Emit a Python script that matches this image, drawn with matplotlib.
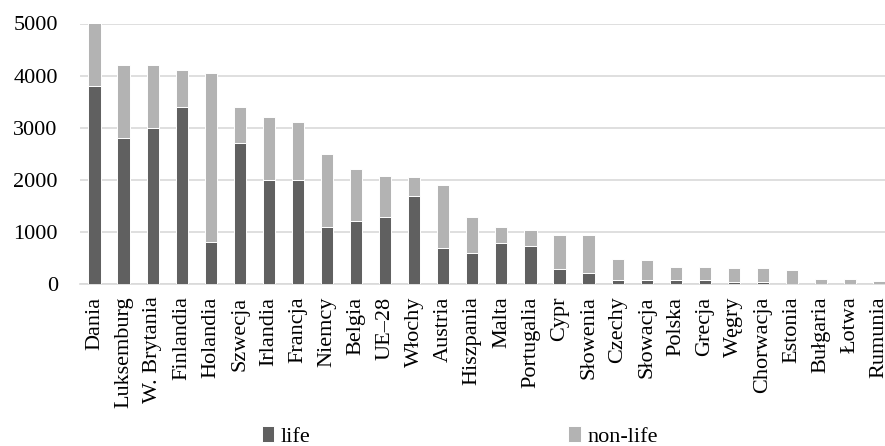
import numpy as np
import matplotlib.pyplot as plt

# kraje i składki (life / non-life)
kraje = ['Dania', 'Luksemburg', 'W. Brytania', 'Finlandia', 'Holandia', 'Szwecja',
         'Irlandia', 'Francja', 'Niemcy', 'Belgia', 'UE–28', 'Włochy', 'Austria',
         'Hiszpania', 'Malta', 'Portugalia', 'Cypr', 'Słowenia', 'Czechy', 'Słowacja',
         'Polska', 'Grecja', 'Węgry', 'Chorwacja', 'Estonia', 'Bułgaria', 'Łotwa', 'Rumunia']
life = [3800, 2800, 3000, 3400, 800, 2700, 2000, 2000, 1100, 1200, 1280, 1680, 700,
        600, 790, 730, 290, 210, 70, 70, 70, 70, 30, 30, 5, 5, 5, 5]
razem = [5000, 4200, 4200, 4100, 4050, 3400, 3200, 3100, 2500, 2200, 2080, 2050, 1900,
         1290, 1100, 1040, 940, 940, 480, 460, 330, 330, 300, 300, 270, 90, 90, 60]
non_life = [r - l for r, l in zip(razem, life)]

plt.rcParams['font.family'] = ['Liberation Serif', 'DejaVu Serif']

fig = plt.figure(figsize=(8.85, 4.46), dpi=100)
ax = fig.add_axes([80 / 885, 1 - 284 / 446, 805 / 885, 260.5 / 446])

x = np.arange(len(kraje))
ax.bar(x, life, width=0.42, color='#606060', edgecolor='white', linewidth=0.7,
       label='life', zorder=3)
ax.bar(x, non_life, width=0.42, bottom=life, color='#b3b3b3', edgecolor='white',
       linewidth=0.7, label='non-life', zorder=3)

ax.set_xlim(-0.5, 27.2)
ax.set_ylim(0, 5000)
ax.set_yticks(range(0, 5001, 1000))
ax.yaxis.grid(True, color='#d9d9d9', linewidth=1.2, zorder=0)
ax.set_axisbelow(True)
for s in ['top', 'right', 'left']:
    ax.spines[s].set_visible(False)
ax.spines['bottom'].set_color('#d9d9d9')
ax.spines['bottom'].set_linewidth(1.2)
ax.tick_params(length=0, labelsize=16)
ax.tick_params(axis='y', pad=16)
ax.tick_params(axis='x', pad=9)
ax.set_xticks(x)
ax.set_xticklabels(kraje, rotation=90)

ax.legend(loc='center', bbox_to_anchor=(0.472, -0.585), ncol=2, frameon=False,
          fontsize=16, handlelength=0.55, handleheight=0.7, handletextpad=0.3,
          columnspacing=11.6, borderpad=0)

fig.savefig('out.png', dpi=100)
